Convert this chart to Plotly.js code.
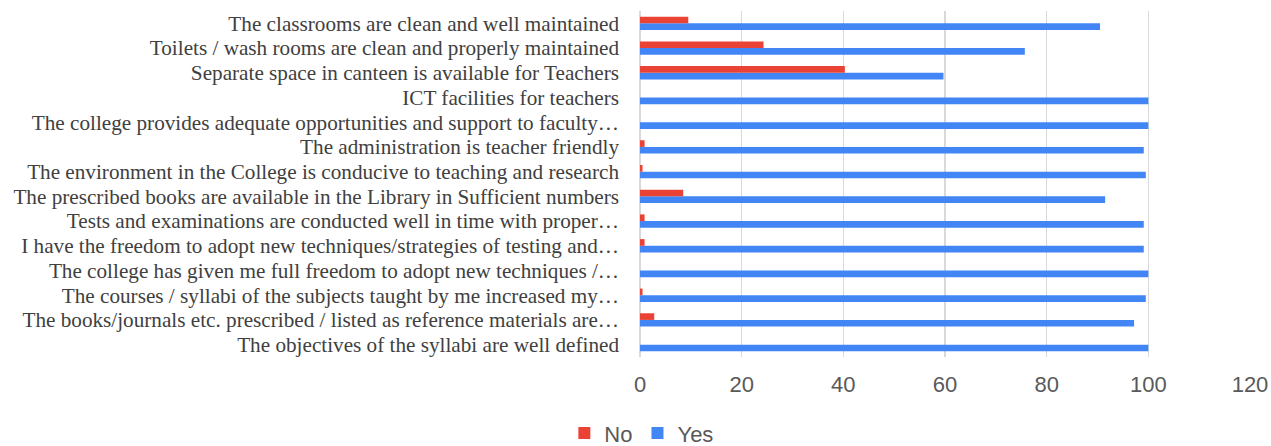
<!DOCTYPE html>
<html>
<head>
<meta charset="utf-8">
<script src="https://cdn.plot.ly/plotly-3.0.1.min.js"></script>
<style>html,body{margin:0;padding:0;background:#fff}#chart{width:1271px;height:446px}</style>
</head>
<body>
<div id="chart"></div>
<script>
// categories listed bottom-to-top
const categories = [
  "The objectives of the syllabi are well defined",
  "The books/journals etc. prescribed / listed as reference materials are…",
  "The courses / syllabi of the subjects taught by me increased my…",
  "The college has given me full freedom to adopt new techniques /…",
  "I have the freedom to adopt new techniques/strategies of testing and…",
  "Tests and examinations are conducted well in time with proper…",
  "The prescribed books are available in the Library in Sufficient numbers",
  "The environment in the College is conducive to teaching and research",
  "The administration is teacher friendly",
  "The college provides adequate opportunities and support to faculty…",
  "ICT facilities for teachers",
  "Separate space in canteen is available for Teachers",
  "Toilets / wash rooms are clean and properly maintained",
  "The classrooms are clean and well maintained"
];
const yesValues = [100, 97.2, 99.5, 100, 99.1, 99.1, 91.5, 99.5, 99.1, 100, 100, 59.7, 75.7, 90.5];
const noValues  = [0, 2.8, 0.5, 0, 0.9, 0.9, 8.5, 0.5, 0.9, 0, 0, 40.3, 24.3, 9.5];
const xTicks = [0, 20, 40, 60, 80, 100, 120];

const traces = [
  {type: 'bar', orientation: 'h', name: 'Yes', y: categories, x: yesValues,
   marker: {color: '#4285F4'}},
  {type: 'bar', orientation: 'h', name: 'No', y: categories, x: noValues,
   marker: {color: '#EA4335'}}
];

const layout = {
  width: 1271, height: 446,
  margin: {l: 640, r: 21, t: 11, b: 89, autoexpand: false},
  paper_bgcolor: '#fff', plot_bgcolor: '#fff',
  barmode: 'group', bargap: 0.46, bargroupgap: 0,
  showlegend: true,
  legend: {orientation: 'h', xref: 'container', yref: 'paper',
           x: 0.505, xanchor: 'center', y: -0.22, yanchor: 'middle',
           traceorder: 'reversed', itemwidth: 30, itemsizing: 'constant',
           font: {family: 'Liberation Sans, Arial, sans-serif', size: 22, color: '#595959'}},
  xaxis: {range: [0, 120], tickvals: xTicks, ticktext: xTicks.map(String),
          showgrid: true, gridcolor: '#d9d9d9', gridwidth: 1.5,
          zeroline: true, zerolinecolor: '#d9d9d9', zerolinewidth: 1.5,
          showline: false, ticks: '',
          tickfont: {family: 'Liberation Sans, Arial, sans-serif', size: 22, color: '#595959'},
          ticklabelstandoff: 12, fixedrange: true},
  yaxis: {type: 'category', categoryorder: 'array', categoryarray: categories,
          tickmode: 'linear', tick0: 0, dtick: 1,
          showgrid: false, zeroline: false, showline: false, ticks: '',
          tickfont: {family: 'Liberation Serif, Times New Roman, serif', size: 21.2, color: '#404040'},
          ticklabelstandoff: 20, automargin: false, fixedrange: true}
};

Plotly.newPlot('chart', traces, layout, {displayModeBar: false, staticPlot: true});
</script>
</body>
</html>
